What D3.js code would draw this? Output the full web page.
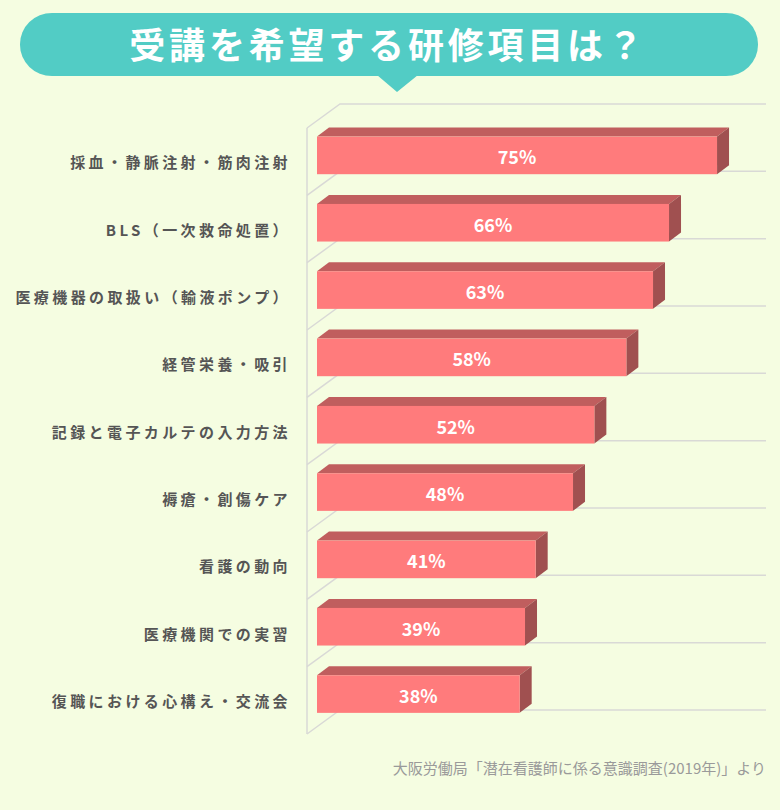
<!DOCTYPE html>
<html>
<head>
<meta charset="utf-8">
<script src="https://cdn.jsdelivr.net/npm/d3@7"></script>
<style>
  html, body { margin: 0; padding: 0; background: #F5FDE1; }
  svg { display: block; }
  .cat { font-family: "Noto Sans CJK JP", sans-serif; font-weight: 700; font-size: 15px; fill: #555; letter-spacing: 3.4px; }
  .val { font-family: "Noto Sans CJK JP", sans-serif; font-weight: 700; font-size: 18px; fill: #fff; }
  .title { font-family: "Noto Sans CJK JP", sans-serif; font-weight: 700; font-size: 36px; fill: #fff; letter-spacing: 3.8px; }
  .source { font-family: "Noto Sans CJK JP", sans-serif; font-size: 15px; fill: #9a9a9a; }
</style>
</head>
<body>
<svg id="chart" width="780" height="810"></svg>
<script>
const categories = [
  "採血・静脈注射・筋肉注射",
  "BLS（一次救命処置）",
  "医療機器の取扱い（輸液ポンプ）",
  "経管栄養・吸引",
  "記録と電子カルテの入力方法",
  "褥瘡・創傷ケア",
  "看護の動向",
  "医療機関での実習",
  "復職における心構え・交流会"
];
const values = [75, 66, 63, 58, 52, 48, 41, 39, 38];
const titleText = "受講を希望する研修項目は？";
const sourceText = "大阪労働局「潜在看護師に係る意識調査(2019年)」より";

const svg = d3.select("#chart");
svg.append("rect").attr("width", 780).attr("height", 810).attr("fill", "#F5FDE1");

// title bubble
const bubble = svg.append("g").attr("class", "bubble");
bubble.append("rect")
  .attr("x", 20).attr("y", 13)
  .attr("width", 738).attr("height", 63)
  .attr("rx", 32).attr("ry", 31)
  .attr("fill", "#52CCC5");
bubble.append("path")
  .attr("d", "M377,75 L418,75 L397,92 Z")
  .attr("fill", "#52CCC5");
bubble.append("text")
  .attr("class", "title")
  .attr("x", 388).attr("y", 43)
  .attr("text-anchor", "middle")
  .attr("dominant-baseline", "central")
  .text(titleText);

// plot geometry
const axisX = 307, wallDx = 33, wallDy = -24, wallRight = 766;
const barDx = 12, barDy = -9;

const x = d3.scaleLinear().domain([0, 80]).range([317, 743.7]);
const y = d3.scaleBand().domain(categories).range([128, 734]);

const grid = svg.append("g").attr("class", "grid")
  .attr("stroke", "#d9d9d6").attr("stroke-width", 1.5).attr("fill", "none");

const bounds = d3.range(categories.length + 1).map(i => 128 + i * y.step());
grid.selectAll(".gl")
  .data(bounds)
  .enter()
  .append("path")
  .attr("class", "gl")
  .attr("d", d => `M${axisX},${d} L${axisX + wallDx},${d + wallDy} L${wallRight},${d + wallDy}`);
grid.append("line")
  .attr("x1", axisX).attr("x2", axisX)
  .attr("y1", 128).attr("y2", 734);

// 3d bars
const bars = svg.selectAll(".bar")
  .data(categories.map((c, i) => ({ cat: c, value: values[i] })))
  .enter()
  .append("g")
  .attr("class", "bar")
  .each(function(d) {
    const g = d3.select(this);
    const x0 = x(0), x1 = x(d.value);
    const top = y(d.cat) + 8.6, h = 37.6;
    g.append("path")
      .attr("d", `M${x0},${top} L${x0 + barDx},${top + barDy} L${x1 + barDx},${top + barDy} L${x1},${top} Z`)
      .attr("fill", "#C05E5E");
    g.append("path")
      .attr("d", `M${x1},${top} L${x1 + barDx},${top + barDy} L${x1 + barDx},${top + barDy + h} L${x1},${top + h} Z`)
      .attr("fill", "#A05050");
    g.append("rect")
      .attr("x", x0).attr("y", top)
      .attr("width", x1 - x0).attr("height", h)
      .attr("fill", "#FF7B7C");
    g.append("text")
      .attr("class", "val")
      .attr("x", (x0 + x1) / 2)
      .attr("y", top + h / 2 + 1)
      .attr("text-anchor", "middle")
      .attr("dominant-baseline", "central")
      .text(d.value + "%");
  });

// category labels
svg.selectAll(".cat")
  .data(categories)
  .enter()
  .append("text")
  .attr("class", "cat")
  .attr("x", 291)
  .attr("y", d => y(d) + y.bandwidth() / 2)
  .attr("text-anchor", "end")
  .attr("dominant-baseline", "central")
  .text(d => d);

svg.append("text")
  .attr("class", "source")
  .attr("x", 766).attr("y", 767)
  .attr("text-anchor", "end")
  .attr("dominant-baseline", "central")
  .text(sourceText);
</script>
</body>
</html>
